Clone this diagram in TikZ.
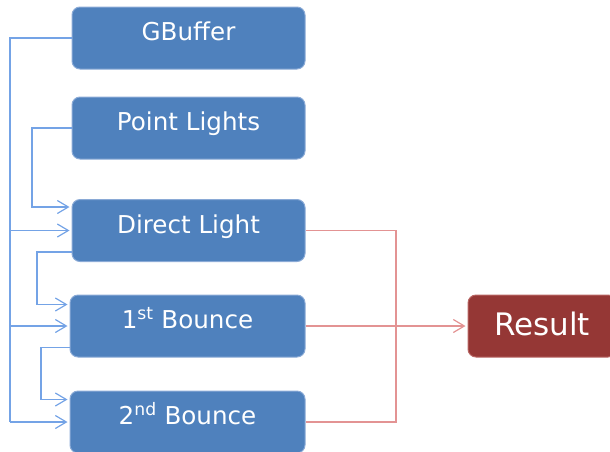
\documentclass[tikz,border=0pt]{standalone}
\usepackage{fontspec}
\setmainfont{DejaVu Sans}
\usetikzlibrary{arrows.meta}
\definecolor{boxblue}{HTML}{4F81BD}
\definecolor{boxedge}{HTML}{8AAAD6}
\definecolor{boxred}{HTML}{953735}
\definecolor{rededge}{HTML}{B86563}
\definecolor{lineblue}{HTML}{74A3E6}
\definecolor{linered}{HTML}{E39393}
\tikzset{
  box/.style={draw=boxedge, fill=boxblue, line width=1pt, rounded corners=8pt, minimum height=62pt, inner sep=0pt},
  rbox/.style={draw=rededge, fill=boxred, line width=1pt, rounded corners=8pt, minimum height=62pt, inner sep=0pt},
  lbl/.style={text=white, anchor=base, font=\fontsize{24.6}{28}\selectfont, inner sep=0pt},
  rlbl/.style={text=white, anchor=base, font=\fontsize{31}{36}\selectfont, inner sep=0pt},
  bl/.style={draw=lineblue, line width=1.2pt},
  rl/.style={draw=linered, line width=1.2pt},
  tip/.style={-{Straight Barb[length=11pt,width=13pt,line width=1.2pt]}, shorten >=2pt},
}
\begin{document}
\begin{tikzpicture}[x=1pt,y=-1pt]
\clip (0,0) rectangle (610,451);
\useasboundingbox (0,0) rectangle (610,451);
% boxes
\node[box, minimum width=233pt] (gb) at (188.5,38) {};
\node[box, minimum width=233pt] (pl) at (188.5,128) {};
\node[box, minimum width=233pt] (dl) at (188.5,230.5) {};
\node[box, minimum width=235pt] (b1) at (187.5,326) {};
\node[box, minimum width=235pt] (b2) at (187.5,422) {};
\node[rbox, minimum width=148pt] (res) at (542,326) {};
% labels
\node[lbl] (tgb) at ([yshift=-2.7pt]gb.center) {GBuffer};
\node[lbl] (tpl) at ([yshift=-2.7pt]pl.center) {Point Lights};
\node[lbl] (tdl) at ([yshift=-2.7pt]dl.center) {Direct Light};
\node[lbl] (tb1) at ([yshift=-2.7pt]b1.center) {1\textsuperscript{st} Bounce};
\node[lbl] (tb2) at ([yshift=-2.7pt]b2.center) {2\textsuperscript{nd} Bounce};
\node[rlbl] (tres) at ([yshift=-9pt]res.center) {Result};
% bus coordinates
\coordinate (bus) at (10,0);
\coordinate (plx) at (32,0);
\coordinate (dlx) at (37,0);
\coordinate (b1x) at (41,0);
\coordinate (rbus) at (396,0);
% blue connectors
\draw[bl] (gb.west) -- (gb.west -| bus) -- (b2.west -| bus);
\draw[bl,tip] (dl.west -| bus) -- (dl.west);
\draw[bl,tip] (b1.west -| bus) -- (b1.west);
\draw[bl,tip] (b2.west -| bus) -- (b2.west);
\draw[bl,tip] (pl.west) -- (pl.west -| plx) |- ([yshift=-8pt]dl.north west);
\draw[bl,tip] ([yshift=10pt]dl.south west) -- ([yshift=10pt]dl.south west -| dlx) |- ([yshift=-10pt]b1.north west);
\draw[bl,tip] ([yshift=10pt]b1.south west) -- ([yshift=10pt]b1.south west -| b1x) |- ([yshift=-9pt]b2.north west);
% red connectors
\draw[rl] (dl.east) -- (dl.east -| rbus) -- (b2.east -| rbus) -- (b2.east);
\draw[rl,tip] (b1.east) -- (res.west);
\end{tikzpicture}
\end{document}
